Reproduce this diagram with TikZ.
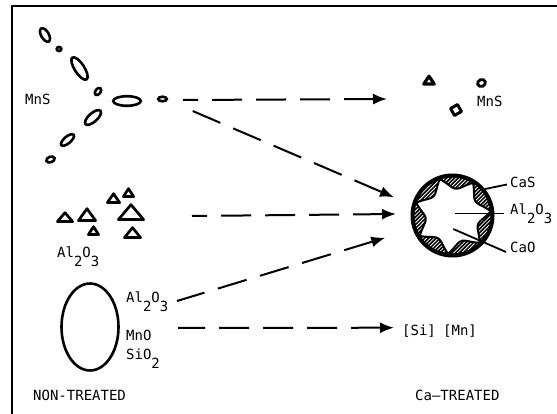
\documentclass[tikz,border=0pt]{standalone}
\usepackage{fontspec}
\setmonofont{DejaVu Sans Mono}
\usetikzlibrary{arrows.meta}
% chemical subscripts set at full size, dropped below the line
\newcommand\lowr[1]{\raisebox{-8.5pt}{#1}}
% outlined triangular inclusion: centre x, base y, apex y, width
\newcommand\tri[4]{\draw[particle] ({#1-#4/2+1.4},{#2-1.4}) -- ({#1+#4/2-1.4},{#2-1.4}) -- (#1,{#3+1.7}) -- cycle;}
\begin{document}
\begin{tikzpicture}[x=1pt,y=-1pt,
  lbl/.style={anchor=base west,inner sep=0pt,font=\fontsize{14}{16}\selectfont\ttfamily},
  incl/.style={line width=2.6pt},
  particle/.style={line width=2.7pt,line join=round},
  darrow/.style={line width=2pt,dash pattern=on 30pt off 14pt,{Latex[length=14pt,width=11pt]}-},
  leader/.style={line width=1.8pt}]
\useasboundingbox (0,0) rectangle (557,414);

% frame
\draw[line width=2pt] (11.7,414) -- (11.7,6) -- (557,6);

% ---------- non-treated side ----------
% MnS stringers
\draw[incl,rotate around={-60:(45,35)}] (45,35) ellipse [x radius=7.5,y radius=3.8];
\draw[incl] (59,49) ellipse [x radius=2.3,y radius=2];
\draw[incl,rotate around={-57:(79.5,68.5)}] (79.5,68.5) ellipse [x radius=13,y radius=4.8];
\draw[incl,rotate around={55:(98,91.5)}] (98,91.5) ellipse [x radius=4,y radius=2.6];
\draw[incl] (127,101) ellipse [x radius=13.8,y radius=4.8];
\draw[incl] (162.5,99) ellipse [x radius=4.3,y radius=2.3];
\draw[incl,rotate around={42:(93,117.5)}] (93,117.5) ellipse [x radius=10,y radius=4.3];
\draw[incl,rotate around={40:(67.5,140)}] (67.5,140) ellipse [x radius=8,y radius=3.4];
\draw[incl,rotate around={20:(50.5,159.5)}] (50.5,159.5) ellipse [x radius=4.3,y radius=2.8];
\node[lbl] (mnsA) at (25,105) {MnS};

% alumina clusters
\tri{65}{223}{211}{18}
\tri{87}{222}{207}{20}
\tri{93.5}{236}{225}{13}
\tri{113.5}{204}{192}{15}
\tri{128.5}{198}{187}{13}
\tri{131}{221}{203}{28}
\tri{132.5}{239}{226}{19}
\node[lbl] (alA) at (57,258) {Al\lowr{2}O\lowr{3}};

% complex oxide
\draw[line width=2.6pt] (90,327) ellipse [x radius=28.5,y radius=43.5];
\node[lbl] (alB) at (126,302.5) {Al\lowr{2}O\lowr{3}};
\node[lbl] (mno) at (126,340) {MnO};
\node[lbl] (sio) at (126,359.5) {SiO\lowr{2}};
\node[lbl] (nt) at (33,400) {NON-TREATED};

% ---------- Ca-treated side ----------
% modified sulphides
\draw[line width=3.2pt,line join=round] (423.8,84) -- (434.2,84) -- (429,76.2) -- cycle;
\draw[incl,line width=2.8pt,rotate around={20:(481.5,83)}] (481.5,83) ellipse [x radius=4,y radius=3.4];
\draw[particle,line width=3pt,rotate around={30:(456,110)}] (452,106) rectangle (460,114);
\node[lbl] (mnsB) at (477,107) {MnS};

% duplex calcium aluminate inclusion
\fill (452.5,215.5) circle (42);
\begin{scope}
  \clip (452.5,215.5) circle (37.8);
  \foreach \i in {-64,-60.2,...,64}
    \draw[white,line width=0.8pt] ({452.5+\i-45},{215.5+45}) -- ({452.5+\i+45},{215.5-45});
\end{scope}
\filldraw[fill=white,line width=2pt]
  plot[domain=0:360,samples=253,variable=\t]
  ({452.5+(38.5-11.5*abs(sin(3.5*(\t-6.3))))*cos(\t)},{215.5-(38.5-11.5*abs(sin(3.5*(\t-6.3))))*sin(\t)}) -- cycle;

\coordinate (casA) at (485,189);
\coordinate (casB) at (507,184.5);
\coordinate (alcA) at (455,213.5);
\coordinate (alcB) at (504,213.5);
\coordinate (caoA) at (453.3,229);
\coordinate (caoB) at (506,252);
\draw[leader] (casA) -- (casB);
\draw[leader] (alcA) -- (alcB);
\draw[leader] (caoA) -- (caoB);
\node[lbl] (cas) at (510,188) {CaS};
\node[lbl] (alC) at (510,215) {Al\lowr{2}O\lowr{3}};
\node[lbl] (cao) at (510,253) {CaO};

\node[lbl] (si) at (402,335) {[Si]};
\node[lbl] (mn) at (443,335) {[Mn]};
\node[lbl] (ct) at (415,400) {Ca—TREATED};

% ---------- transformation arrows ----------
\coordinate (s1) at (183,100);   \coordinate (e1) at (387,99);
\coordinate (s2) at (188,109);   \coordinate (e2) at (394,197.3);
\coordinate (s3) at (192,216);   \coordinate (e3) at (396,214);
\coordinate (s4) at (177,301);   \coordinate (e4) at (385.3,237.7);
\coordinate (s5) at (178,328);   \coordinate (e5) at (394,327.7);
\draw[darrow] (e1) -- (s1);
\draw[darrow] (e2) -- (s2);
\draw[darrow] (e3) -- (s3);
\draw[darrow] (e4) -- (s4);
\draw[darrow] (e5) -- (s5);
\end{tikzpicture}
\end{document}
